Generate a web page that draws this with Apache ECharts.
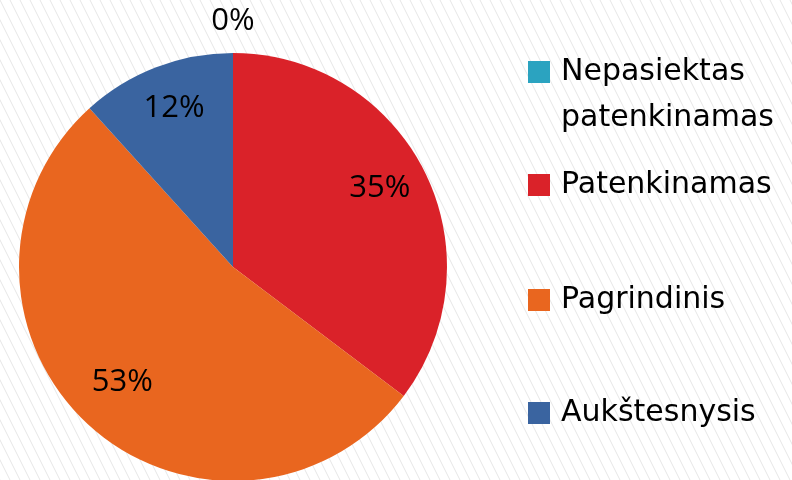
<!DOCTYPE html>
<html lang="lt">
<head>
    <meta charset="utf-8">
    <title>ECharts</title>
    <script src="https://cdn.jsdelivr.net/npm/echarts@6/dist/echarts.min.js"></script>
    <style>
        html, body { margin: 0; padding: 0; background: #fff; }
    </style>
</head>
<body>
<div id="main" style="width: 792px;height:480px;"></div>
<script type="text/javascript">
    var myChart = echarts.init(document.getElementById('main'));

    // duomenys
    var categories = ['Nepasiektas\npatenkinamas', 'Patenkinamas', 'Pagrindinis', 'Aukštesnysis'];
    var values = [0, 35.3, 53, 11.7];
    var colors = ['#2ba3c0', '#da2229', '#e9661f', '#3a64a0'];

    // striped background
    var tile = document.createElement('canvas');
    tile.width = 10;
    tile.height = 20;
    var ctx = tile.getContext('2d');
    ctx.fillStyle = '#ffffff';
    ctx.fillRect(0, 0, 10, 20);
    ctx.strokeStyle = '#e6e6e6';
    ctx.lineWidth = 1;
    ctx.beginPath();
    ctx.moveTo(-5, -10);
    ctx.lineTo(15, 30);
    ctx.moveTo(-15, -10);
    ctx.lineTo(5, 30);
    ctx.moveTo(5, -10);
    ctx.lineTo(25, 30);
    ctx.stroke();

    var pieData = categories.map(function (c, i) {
        return { name: c, value: values[i], itemStyle: { color: colors[i] } };
    });

    var center = [233, 267];
    var labelFont = { fontFamily: 'Open Sans', fontSize: 31, color: '#000' };

    // one legend per item so the icon sits next to the first text line
    var legendTops = [3, 162, 277, 390];
    var legends = categories.map(function (c, i) {
        var multi = c.indexOf('\n') >= 0;
        return {
            orient: 'vertical',
            left: 528,
            top: legendTops[i],
            padding: 0,
            itemWidth: 22,
            itemHeight: 22,
            icon: 'rect',
            selectedMode: false,
            data: [c],
            // empty first line keeps the icon level with "Nepasiektas"
            formatter: function (name) { return multi ? '\n' + name : name; },
            textStyle: {
                fontFamily: 'DejaVu Sans',
                fontSize: 30,
                color: '#000',
                lineHeight: 46,
                padding: [0, 0, 0, 6]
            }
        };
    });

    option = {
        backgroundColor: { image: tile, repeat: 'repeat' },
        animation: false,
        legend: legends,
        series: [{
            type: 'pie',
            center: center,
            radius: 214,
            startAngle: 90,
            clockwise: true,
            silent: true,
            label: { show: false },
            labelLine: { show: false },
            data: pieData
        }, {
            // transparent ring: puts labels at ~3/4 radius
            type: 'pie',
            center: center,
            radius: [108, 214],
            startAngle: 90,
            silent: true,
            percentPrecision: 0,
            itemStyle: { color: 'rgba(0,0,0,0)' },
            labelLine: { show: false },
            label: {
                show: true,
                position: 'inside',
                formatter: '{p|{d}%}',
                rich: { p: Object.assign({ padding: [0, 0, 12, 0] }, labelFont) }
            },
            data: values.map(function (v, i) {
                return { name: 'l' + i, value: v, label: { show: v > 0 } };
            })
        }, {
            // label for the empty slice, just outside the pie
            type: 'pie',
            center: center,
            radius: [214, 272],
            startAngle: 90,
            silent: true,
            percentPrecision: 0,
            itemStyle: { color: 'rgba(0,0,0,0)' },
            labelLine: { show: false },
            label: Object.assign({ show: true, position: 'inside', formatter: '{d}%' }, labelFont),
            data: values.map(function (v, i) {
                return { name: 'z' + i, value: v, label: { show: v === 0 } };
            })
        }]
    };

    myChart.setOption(option);
</script>
</body>
</html>
